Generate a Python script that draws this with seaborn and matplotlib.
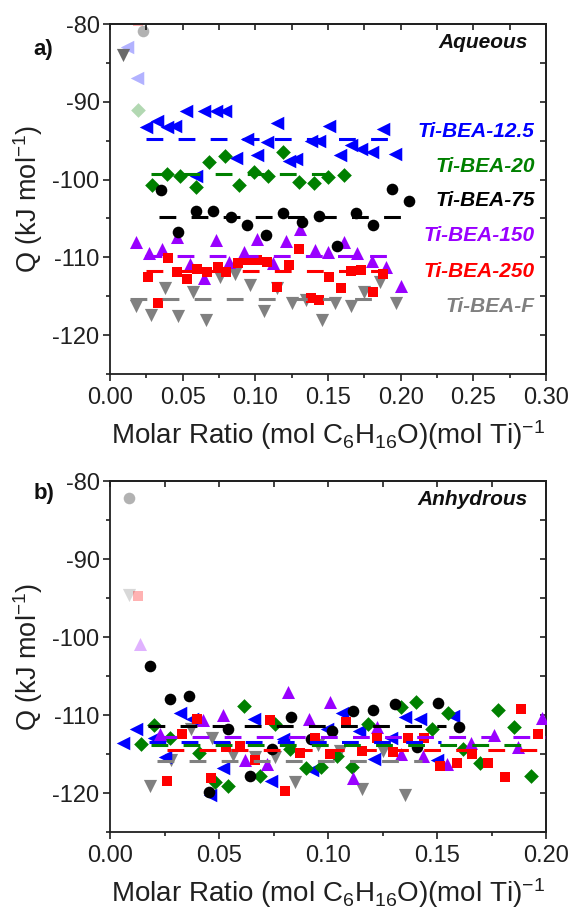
import numpy as np
import pandas as pd
import matplotlib
matplotlib.use("Agg")
import matplotlib.pyplot as plt
import seaborn as sns
from matplotlib.ticker import MultipleLocator, NullFormatter

# ---------------- data ----------------
series_names = ["Ti-BEA-12.5", "Ti-BEA-20", "Ti-BEA-75", "Ti-BEA-150", "Ti-BEA-250", "Ti-BEA-F"]

# Aqueous
aq125_x = [0.025, 0.032, 0.039, 0.045, 0.052, 0.059, 0.065, 0.073, 0.079, 0.087, 0.094, 0.101, 0.108,
           0.115, 0.123, 0.128, 0.138, 0.144, 0.151, 0.158, 0.166, 0.173, 0.180, 0.188, 0.196]
aq125_q = [-93.3, -92.5, -93.3, -93.1, -91.2, -99.5, -91.2, -91.2, -91.2, -97.2, -94.8, -96.9, -95.2,
           -92.7, -97.6, -97.4, -95.0, -95.0, -93.1, -96.9, -95.5, -96.1, -96.5, -93.5, -96.7]
aq20_x = [0.029, 0.039, 0.048, 0.059, 0.068, 0.079, 0.089, 0.099, 0.109, 0.119, 0.130, 0.140, 0.150, 0.161]
aq20_q = [-100.7, -99.3, -99.5, -100.9, -97.7, -97.0, -100.7, -99.0, -99.5, -96.5, -100.3, -100.4, -99.7, -99.4]
aq75_x = [0.035, 0.047, 0.059, 0.071, 0.083, 0.094, 0.107, 0.119, 0.132, 0.144, 0.156, 0.169, 0.181, 0.194, 0.206]
aq75_q = [-101.3, -106.7, -104.0, -104.0, -104.8, -105.9, -107.1, -104.3, -105.4, -104.7, -108.6, -104.3,
          -105.8, -101.2, -102.8]
aq150_x = [0.018, 0.027, 0.036, 0.046, 0.055, 0.065, 0.073, 0.082, 0.092, 0.101, 0.112, 0.121, 0.131,
           0.141, 0.150, 0.161, 0.170, 0.180, 0.190, 0.200]
aq150_q = [-108.0, -109.5, -108.9, -107.4, -110.9, -112.7, -107.8, -110.6, -109.3, -107.6, -110.7, -107.9,
           -106.3, -109.1, -109.3, -108.0, -109.5, -110.5, -111.3, -113.7]
aq250_x = [0.026, 0.033, 0.040, 0.046, 0.053, 0.060, 0.067, 0.074, 0.080, 0.088, 0.094, 0.101, 0.108,
           0.115, 0.123, 0.130, 0.138, 0.144, 0.151, 0.159, 0.166, 0.173, 0.181, 0.188]
aq250_q = [-112.5, -115.9, -110.1, -111.9, -112.8, -111.5, -111.9, -111.3, -111.9, -110.7, -110.4, -110.4,
           -110.6, -113.8, -111.0, -108.9, -115.2, -115.5, -112.5, -113.9, -111.8, -111.6, -114.4, -112.1]
aqF_x = [0.018, 0.028, 0.038, 0.047, 0.057, 0.066, 0.076, 0.086, 0.096, 0.106, 0.115, 0.125, 0.135,
         0.146, 0.155, 0.166, 0.175, 0.186, 0.197]
aqF_q = [-116.3, -117.4, -114.0, -117.6, -114.4, -118.0, -112.5, -112.1, -113.6, -116.9, -114.0, -115.9,
         -115.5, -118.0, -115.9, -116.3, -114.4, -113.2, -115.9]
# first (faded) injections, aqueous
aq_init_series = ["Ti-BEA-75", "Ti-BEA-250", "Ti-BEA-12.5", "Ti-BEA-12.5", "Ti-BEA-20", "Ti-BEA-F"]
aq_init_x = [0.0227, 0.019, 0.0114, 0.0186, 0.019, 0.009]
aq_init_q = [-80.9, -79.6, -83.0, -86.9, -91.0, -84.0]
# averages (dashed lines)
aq_mean = [-94.8, -99.3, -104.8, -109.8, -111.7, -115.3]
aq_line_start = [0.025, 0.028, 0.034, 0.024, 0.025, 0.014]
aq_line_end = [0.197, 0.155, 0.207, 0.200, 0.191, 0.185]

# Anhydrous
an125_x = [0.006, 0.012, 0.020, 0.025, 0.032, 0.0375, 0.046, 0.052, 0.066, 0.074, 0.0795, 0.0925, 0.0994,
           0.1065, 0.1141, 0.1212, 0.129, 0.1353, 0.1422, 0.1498, 0.1575]
an125_q = [-113.6, -111.8, -113.0, -115.4, -109.7, -110.5, -120.3, -116.8, -110.5, -118.5, -113.1, -117.0,
           -111.8, -109.8, -112.0, -115.6, -113.0, -110.3, -110.5, -115.8, -110.1]
an20_x = [0.014, 0.020, 0.0275, 0.041, 0.048, 0.054, 0.0615, 0.069, 0.0757, 0.0826, 0.0899, 0.0966, 0.104,
          0.1108, 0.1182, 0.1335, 0.1402, 0.1479, 0.1552, 0.1621, 0.1697, 0.1778, 0.1855, 0.1931]
an20_q = [-113.7, -111.3, -113.0, -114.9, -118.6, -119.1, -108.8, -117.8, -111.2, -114.4, -116.8, -116.7,
          -115.3, -116.7, -111.2, -109.0, -108.3, -111.8, -109.7, -114.4, -116.1, -109.3, -111.6, -117.8]
an75_x = [0.0183, 0.0275, 0.0364, 0.0456, 0.0543, 0.0642, 0.0742, 0.0829, 0.0921, 0.1017, 0.1116, 0.1208,
          0.1307, 0.1407, 0.1506, 0.1601]
an75_q = [-103.7, -108.0, -107.5, -119.9, -111.8, -117.8, -114.4, -110.3, -113.1, -112.1, -109.5, -109.3,
          -108.6, -114.1, -108.5, -111.6]
an150_x = [0.0229, 0.0428, 0.0517, 0.0619, 0.0719, 0.0818, 0.0914, 0.1009, 0.1115, 0.1223, 0.1335, 0.1437,
           0.1544, 0.1655, 0.1763, 0.1873, 0.198]
an150_q = [-112.4, -110.7, -110.0, -115.8, -116.3, -107.1, -110.5, -108.3, -118.1, -111.6, -115.0, -115.2,
           -116.3, -113.6, -112.6, -114.1, -110.4]
an250_x = [0.0263, 0.0329, 0.0398, 0.0462, 0.0532, 0.0596, 0.0665, 0.0734, 0.0803, 0.0870, 0.0940, 0.1008,
           0.1081, 0.1154, 0.1223, 0.1300, 0.1369, 0.1442, 0.1514, 0.1590, 0.1662, 0.1735, 0.1812, 0.1885, 0.1962]
an250_q = [-118.4, -112.4, -110.5, -118.1, -114.1, -114.0, -115.8, -110.6, -119.7, -114.9, -112.9, -115.0,
           -110.9, -114.6, -112.9, -114.8, -113.0, -112.9, -116.6, -116.1, -115.0, -116.1, -118.0, -109.2, -112.4]
anF_x = [0.0183, 0.0278, 0.037, 0.0466, 0.0566, 0.0665, 0.0757, 0.0849, 0.0956, 0.1055, 0.1154, 0.1254, 0.1353]
anF_q = [-119.1, -115.8, -111.8, -113.0, -115.1, -115.4, -115.4, -118.6, -113.9, -114.6, -119.5, -114.6, -120.2]
an_init_series = ["Ti-BEA-75", "Ti-BEA-F", "Ti-BEA-250", "Ti-BEA-150"]
an_init_x = [0.0089, 0.0089, 0.013, 0.0138]
an_init_q = [-82.2, -94.6, -94.7, -100.9]
an_mean = [-113.5, -113.8, -111.4, -112.8, -114.5, -115.9]
an_line_start = [0.018, 0.019, 0.0176, 0.023, 0.026, 0.0214]
an_line_end = [0.152, 0.193, 0.154, 0.200, 0.200, 0.143]

# ---------------- style ----------------
colors = {"Ti-BEA-12.5": "#0000FF", "Ti-BEA-20": "#008000", "Ti-BEA-75": "#000000",
          "Ti-BEA-150": "#9900FF", "Ti-BEA-250": "#FF0000", "Ti-BEA-F": "#808080"}
markers = {"Ti-BEA-12.5": "<", "Ti-BEA-20": "D", "Ti-BEA-75": "o",
           "Ti-BEA-150": "^", "Ti-BEA-250": "s", "Ti-BEA-F": "v"}
sizes = {"Ti-BEA-12.5": 95, "Ti-BEA-20": 56, "Ti-BEA-75": 70,
         "Ti-BEA-150": 88, "Ti-BEA-250": 58, "Ti-BEA-F": 90}
draw_order = ["Ti-BEA-F", "Ti-BEA-12.5", "Ti-BEA-20", "Ti-BEA-150", "Ti-BEA-75", "Ti-BEA-250"]

sns.set_theme(style="ticks")
plt.rcParams["font.family"] = ["Liberation Sans", "DejaVu Sans"]
plt.rcParams["mathtext.fontset"] = "custom"
plt.rcParams["mathtext.rm"] = "Liberation Sans"
plt.rcParams["mathtext.it"] = "Liberation Sans:italic"
plt.rcParams["mathtext.bf"] = "Liberation Sans:bold"


def make_df(xs, qs):
    frames = []
    for name, x, q in zip(series_names, xs, qs):
        frames.append(pd.DataFrame({"x": x, "q": q, "series": name}))
    return pd.concat(frames, ignore_index=True)


aq_df = make_df([aq125_x, aq20_x, aq75_x, aq150_x, aq250_x, aqF_x],
                [aq125_q, aq20_q, aq75_q, aq150_q, aq250_q, aqF_q])
an_df = make_df([an125_x, an20_x, an75_x, an150_x, an250_x, anF_x],
                [an125_q, an20_q, an75_q, an150_q, an250_q, anF_q])
aq_init = pd.DataFrame({"x": aq_init_x, "q": aq_init_q, "series": aq_init_series})
an_init = pd.DataFrame({"x": an_init_x, "q": an_init_q, "series": an_init_series})

fig = plt.figure(figsize=(5.7, 9.1), dpi=100)
ax1 = fig.add_axes([0.193, 0.589, 0.765, 0.3846])
ax2 = fig.add_axes([0.193, 0.0857, 0.765, 0.3857])


def draw_panel(ax, df, init, means, starts, ends, xmax, init_alpha, dark_gray_init):
    # faded first injection points
    for _, row in init.iterrows():
        name = row["series"]
        col = colors[name]
        alpha = init_alpha
        if name == "Ti-BEA-F" and dark_gray_init:
            col, alpha = "#6a6a6a", 1.0
        sns.scatterplot(x=[row["x"]], y=[row["q"]], ax=ax, marker=markers[name], color=col,
                        s=sizes[name], linewidth=0, alpha=alpha, zorder=2, legend=False)
    for name in draw_order:
        sub = df[df["series"] == name]
        sns.scatterplot(data=sub, x="x", y="q", ax=ax, marker=markers[name], color=colors[name],
                        s=sizes[name], linewidth=0, zorder=3, legend=False)
    for name, m, a, b in zip(series_names, means, starts, ends):
        line_df = pd.DataFrame({"x": [a, b], "q": [m, m]})
        sns.lineplot(data=line_df, x="x", y="q", ax=ax, color=colors[name], linewidth=2.2,
                     zorder=4, legend=False)
        ax.lines[-1].set_dashes((5.5, 5.0))
        ax.lines[-1].set_dash_capstyle("butt")

    ax.set_xlim(0, xmax)
    ax.set_ylim(-125, -80)
    ax.yaxis.set_major_locator(MultipleLocator(10))
    ax.yaxis.set_minor_locator(MultipleLocator(5))
    ax.xaxis.set_major_locator(MultipleLocator(0.05))
    ax.xaxis.set_minor_locator(MultipleLocator(0.025))
    ax.xaxis.set_major_formatter(matplotlib.ticker.FormatStrFormatter("%.2f"))
    ax.yaxis.set_major_formatter(matplotlib.ticker.FuncFormatter(lambda v, p: "-%d" % abs(v)))
    ax.tick_params(axis="both", which="major", direction="out", length=5, width=1.2,
                   labelsize=17, color="#202020", labelcolor="#202020")
    ax.tick_params(axis="both", which="minor", direction="out", length=3, width=1.2, color="#202020")
    ax.tick_params(axis="y", which="both", pad=2.5)
    ax.tick_params(axis="x", which="both", pad=4)
    for sp in ax.spines.values():
        sp.set_visible(True)
        sp.set_linewidth(1.3)
        sp.set_color("#202020")
    top = ax.secondary_xaxis("top")
    top.xaxis.set_major_locator(MultipleLocator(0.025))
    top.xaxis.set_major_formatter(NullFormatter())
    top.tick_params(direction="in", length=4.5, width=1.2, color="#202020")
    top.spines["top"].set_linewidth(1.3)
    right = ax.secondary_yaxis("right")
    right.yaxis.set_major_locator(MultipleLocator(5))
    right.yaxis.set_major_formatter(NullFormatter())
    right.tick_params(direction="in", length=4.5, width=1.2, color="#202020")
    right.spines["right"].set_linewidth(1.3)

    ax.set_xlabel("Molar Ratio (mol C$_6$H$_{16}$O)(mol Ti)$^{-1}$", fontsize=20, color="#202020")
    ax.set_ylabel("Q (kJ mol$^{-1}$)", fontsize=19.5, color="#202020")
    ax.xaxis.set_label_coords(0.5, -0.125)
    ax.yaxis.set_label_coords(-0.15, 0.5)


draw_panel(ax1, aq_df, aq_init, aq_mean, aq_line_start, aq_line_end, 0.30, 0.3, True)
draw_panel(ax2, an_df, an_init, an_mean, an_line_start, an_line_end, 0.20, 0.3, False)

# series labels on panel a
label_y = [-93.8, -98.3, -102.7, -107.2, -111.8, -116.3]
for name, yv in zip(series_names, label_y):
    ax1.text(0.2923, yv, name, color=colors[name], fontsize=15, fontweight="bold",
             fontstyle="italic", ha="right", va="center", zorder=5)

ax1.text(0.2875, -82.4, "Aqueous", fontsize=15, fontweight="bold", fontstyle="italic",
         ha="right", va="center", color="#101010")
ax2.text(0.1917, -82.4, "Anhydrous", fontsize=15, fontweight="bold", fontstyle="italic",
         ha="right", va="center", color="#101010")

fig.text(43 / 570, 1 - 49 / 910, "a)", fontsize=16, fontweight="bold", ha="center", va="center",
         color="#101010")
fig.text(44 / 570, 1 - 494 / 910, "b)", fontsize=16, fontweight="bold", ha="center", va="center",
         color="#101010")

fig.savefig("out.png", dpi=100)
